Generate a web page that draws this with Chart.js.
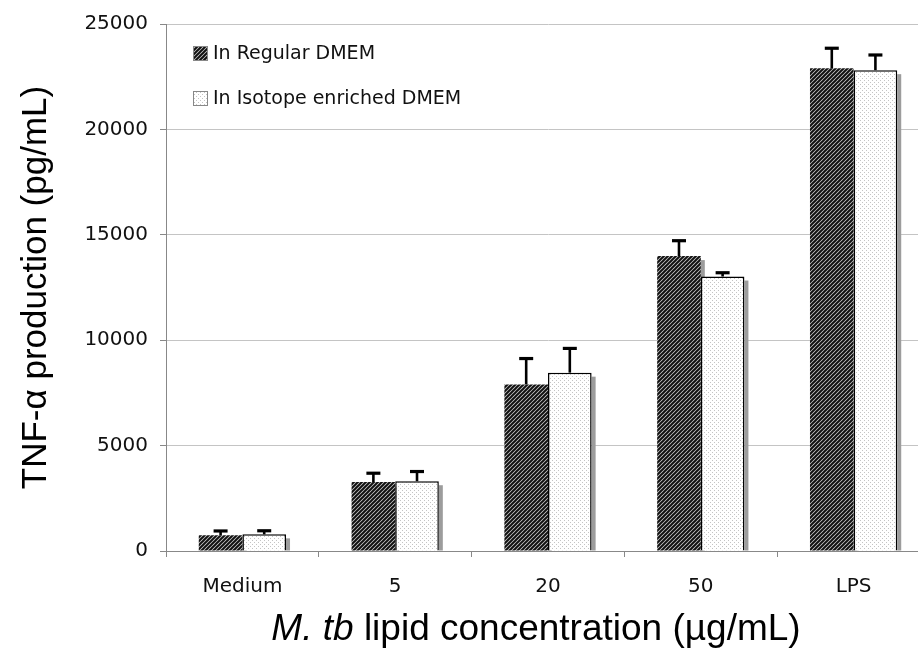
<!DOCTYPE html>
<html>
<head>
<meta charset="utf-8">
<script src="https://cdn.jsdelivr.net/npm/chart.js@4.4.1/dist/chart.umd.min.js"></script>
<style>
  html, body { margin: 0; padding: 0; background: #fff; overflow: hidden; }
  #wrap { position: relative; width: 932px; height: 654px; }
</style>
</head>
<body>
<div id="wrap"><canvas id="tnfChart"></canvas></div>
<script>
// Dados do gráfico
const categories = ['Medium', '5', '20', '50', 'LPS'];
const seriesNames = ['In Regular DMEM', 'In Isotope enriched DMEM'];
const regularValues = [750, 3270, 7900, 13990, 22900];
const regularErrors = [200, 420, 1230, 730, 950];
const isotopeValues = [790, 3310, 8460, 13020, 22810];
const isotopeErrors = [170, 460, 1150, 180, 720];
const yTicks = [0, 5000, 10000, 15000, 20000, 25000];

const tickFont = { family: 'DejaVu Sans', size: 20 };
const titleFamily = 'Liberation Sans, Arial, sans-serif';

// Padrão hachurado (barra escura)
function makeHatch() {
    const c = document.createElement('canvas');
    c.width = 4; c.height = 4;
    const g = c.getContext('2d');
    g.fillStyle = '#cfcfcf';
    g.fillRect(0, 0, 4, 4);
    g.strokeStyle = '#111';
    g.lineWidth = 2;
    g.beginPath();
    g.moveTo(-1, 5); g.lineTo(5, -1);
    g.moveTo(-1, 1); g.lineTo(1, -1);
    g.moveTo(3, 5); g.lineTo(5, 3);
    g.stroke();
    return g.createPattern(c, 'repeat');
}

// Padrão pontilhado (barra clara)
function makeDots() {
    const c = document.createElement('canvas');
    c.width = 4; c.height = 4;
    const g = c.getContext('2d');
    g.fillStyle = '#ffffff';
    g.fillRect(0, 0, 4, 4);
    g.fillStyle = '#c4c4c4';
    g.fillRect(0, 0, 1, 1);
    g.fillRect(2, 2, 1, 1);
    return g.createPattern(c, 'repeat');
}

const hatch = makeHatch();
const dots = makeDots();

// Sombra cinza à direita das barras
const shadowPlugin = {
    id: 'barShadow',
    beforeDatasetsDraw(chart) {
        const ctx = chart.ctx;
        ctx.save();
        ctx.fillStyle = '#9c9c9c';
        chart.data.datasets.forEach((ds, i) => {
            chart.getDatasetMeta(i).data.forEach(bar => {
                const h = bar.base - bar.y - 4;
                if (h > 0) ctx.fillRect(bar.x + bar.width / 2, bar.y + 4, 4, h);
            });
        });
        ctx.restore();
    }
};

// Barras de erro (só para cima)
const errorBarPlugin = {
    id: 'errorBars',
    afterDatasetsDraw(chart) {
        const ctx = chart.ctx;
        const yScale = chart.scales.y;
        ctx.save();
        ctx.strokeStyle = '#000';
        chart.data.datasets.forEach((ds, i) => {
            chart.getDatasetMeta(i).data.forEach((bar, j) => {
                const yTop = yScale.getPixelForValue(ds.data[j] + ds.errors[j]);
                ctx.lineWidth = 2.6;
                ctx.beginPath();
                ctx.moveTo(bar.x, bar.y);
                ctx.lineTo(bar.x, yTop);
                ctx.stroke();
                ctx.lineWidth = 3.2;
                ctx.beginPath();
                ctx.moveTo(bar.x - 7, yTop);
                ctx.lineTo(bar.x + 7, yTop);
                ctx.stroke();
            });
        });
        ctx.restore();
    }
};

// Legenda dentro da área do gráfico + título do eixo X com itálico
const extrasPlugin = {
    id: 'extras',
    afterDraw(chart) {
        const ctx = chart.ctx;
        const area = chart.chartArea;
        ctx.save();
        const fills = [hatch, dots];
        const rowsY = [53, 98];
        ctx.font = '19px "DejaVu Sans"';
        ctx.textBaseline = 'middle';
        seriesNames.forEach((name, i) => {
            const bx = area.left + 27;
            const by = rowsY[i] - 7;
            ctx.fillStyle = fills[i];
            ctx.fillRect(bx, by, 15, 15);
            ctx.strokeStyle = '#888';
            ctx.lineWidth = 1;
            ctx.strokeRect(bx + 0.5, by + 0.5, 14, 14);
            ctx.fillStyle = '#111';
            ctx.fillText(name, bx + 20, rowsY[i] + 1);
        });

        const partA = 'M. tb';
        const partB = ' lipid concentration (\u00b5g/mL)';
        const fontA = 'italic 37px ' + titleFamily;
        const fontB = '37px ' + titleFamily;
        ctx.font = fontA;
        const wA = ctx.measureText(partA).width;
        ctx.font = fontB;
        const wB = ctx.measureText(partB).width;
        const x0 = 536 - (wA + wB) / 2;
        ctx.textBaseline = 'alphabetic';
        ctx.textAlign = 'left';
        ctx.fillStyle = '#000';
        ctx.font = fontA;
        ctx.fillText(partA, x0, 640);
        ctx.font = fontB;
        ctx.fillText(partB, x0 + wA, 640);
        ctx.restore();
    }
};

const ctx = document.getElementById('tnfChart').getContext('2d');
window.tnfChart = new Chart(ctx, {
    type: 'bar',
    data: {
        labels: categories,
        datasets: [{
            label: seriesNames[0],
            data: regularValues,
            errors: regularErrors,
            backgroundColor: hatch,
            borderWidth: 0,
            categoryPercentage: 0.571,
            barPercentage: 1.0
        }, {
            label: seriesNames[1],
            data: isotopeValues,
            errors: isotopeErrors,
            backgroundColor: dots,
            borderColor: '#000',
            borderWidth: 1.5,
            categoryPercentage: 0.571,
            barPercentage: 1.0
        }]
    },
    options: {
        responsive: true,
        maintainAspectRatio: false,
        animation: false,
        layout: { padding: { top: 23, right: 2, bottom: 0, left: 0 } },
        plugins: {
            legend: { display: false },
            tooltip: { enabled: false }
        },
        scales: {
            x: {
                grid: { display: true, drawOnChartArea: false, color: '#888', tickLength: 6, offset: true },
                border: { color: '#888', width: 1 },
                ticks: { font: tickFont, color: '#111', padding: 18 },
                afterFit: scale => { scale.height = 103; }
            },
            y: {
                min: yTicks[0],
                max: yTicks[yTicks.length - 1],
                afterBuildTicks: scale => { scale.ticks = yTicks.map(v => ({ value: v })); },
                grid: { color: '#c4c4c4', tickLength: 6, tickColor: '#888' },
                border: { color: '#888', width: 1 },
                ticks: {
                    font: tickFont,
                    color: '#111',
                    padding: 12,
                    callback: v => String(v)
                },
                title: {
                    display: true,
                    text: 'TNF-\u03b1 production (pg/mL)',
                    font: { family: titleFamily, size: 35 },
                    color: '#000',
                    padding: { top: 15, bottom: 0 }
                },
                afterFit: scale => { scale.width = 166; }
            }
        }
    },
    plugins: [shadowPlugin, errorBarPlugin, extrasPlugin]
});
</script>
</body>
</html>
